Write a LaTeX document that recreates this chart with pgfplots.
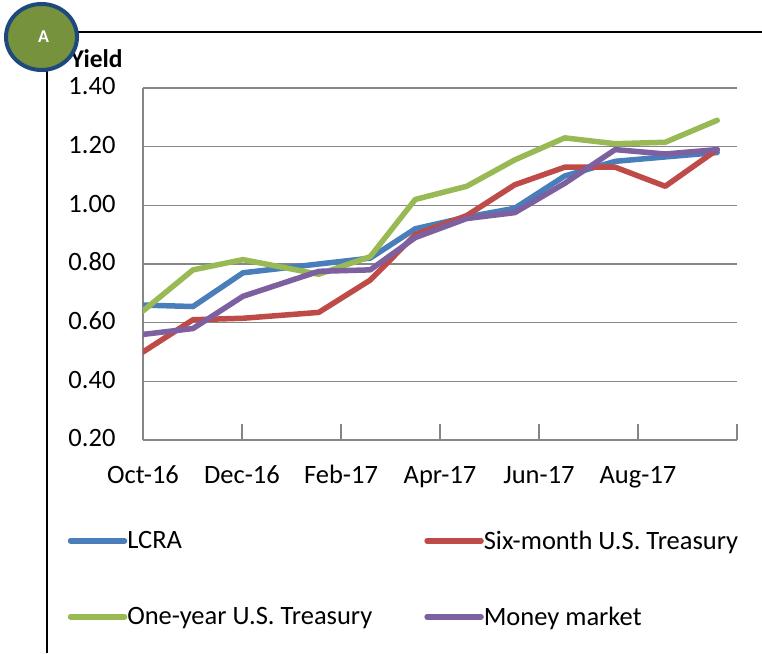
\documentclass[border=0pt]{standalone}
\usepackage{pgfplots}
\pgfplotsset{compat=1.18}
\usepackage{fontspec}
\setmainfont{Carlito}
\definecolor{lcra}{HTML}{4A7EBB}
\definecolor{six}{HTML}{BE4B48}
\definecolor{one}{HTML}{98B954}
\definecolor{mm}{HTML}{7D60A0}
\definecolor{gridg}{HTML}{868686}
\begin{document}
\begin{tikzpicture}[x=1pt,y=1pt]
\path[use as bounding box] (0,0) rectangle (762,653);
\draw[black,line width=1.2pt] (60,621) -- (762,621);
\draw[black,line width=1.2pt] (47,590) -- (47,0);
\node[anchor=base west,inner sep=0pt,font=\fontsize{25.5}{25.5}\selectfont\bfseries] at (70.5,585) {Yield};
\begin{axis}[
  at={(143pt,213pt)},anchor=south west,
  scale only axis,width=594pt,height=352pt,
  xmin=0,xmax=12,ymin=0.2,ymax=1.4,
  axis x line=bottom,axis y line=left,
  axis line style={gridg,line width=1.5pt,-},
  x axis line style={-},y axis line style={-},
  xtick={0,2,4,6,8,10,12},
  xticklabels={Oct-16,Dec-16,Feb-17,Apr-17,Jun-17,Aug-17,},
  typeset ticklabels with strut,
  ytick={0.2,0.4,0.6,0.8,1.0,1.2,1.4},
  yticklabel style={/pgf/number format/fixed,/pgf/number format/fixed zerofill,/pgf/number format/precision=2,/pgf/number format/assume math mode=true,font=\fontsize{26.5}{26.5}\selectfont,xshift=-16pt,yshift=-1.5pt},
  xticklabel style={font=\fontsize{26.5}{26.5}\selectfont,yshift=-13pt},
  ymajorgrids,
  major grid style={gridg,line width=1.5pt},
  tick style={gridg,line width=1.5pt},
  major tick length=16pt,
  x tick style={yshift=8pt},
  y tick style={draw=none},
  legend columns=2,
  legend style={at={(-0.127,-0.252)},anchor=north west,draw=none,fill=none,
    font=\fontsize{26.5}{26.5}\selectfont,inner sep=0pt,row sep=52pt,
    /tikz/every even column/.append style={column sep=50pt}},
  legend cell align=left,
  legend image code/.code={\draw[#1,line cap=round] (0pt,0pt) -- (52pt,0pt); \draw[#1,line cap=round,overlay] (52pt,0pt) -- (54pt,0pt);},
  every axis plot/.append style={line width=5.5pt,line join=round,line cap=round},
]
\addplot[lcra] coordinates {(0,.66)(1.01,.655)(2.02,.77)(3.55,.80)(4.59,.82)(5.5,.92)(6.54,.96)(7.51,.99)(8.52,1.10)(9.54,1.15)(10.55,1.165)(11.6,1.18)};
\addplot[six] coordinates {(0,.50)(1.01,.61)(2.02,.615)(3.55,.635)(4.59,.745)(5.5,.90)(6.54,.965)(7.51,1.07)(8.52,1.13)(9.54,1.13)(10.55,1.065)(11.6,1.19)};
\addplot[one] coordinates {(0,.64)(1.01,.78)(2.02,.815)(3.55,.765)(4.59,.825)(5.5,1.02)(6.54,1.065)(7.51,1.155)(8.52,1.23)(9.54,1.21)(10.55,1.215)(11.6,1.29)};
\addplot[mm] coordinates {(0,.56)(1.01,.58)(2.02,.69)(3.55,.775)(4.59,.78)(5.5,.89)(6.54,.955)(7.51,.975)(8.52,1.075)(9.54,1.19)(10.55,1.175)(11.6,1.19)};
\legend{LCRA,Six-month U.S. Treasury,One-year U.S. Treasury,Money market}
\end{axis}
\draw[fill={rgb,255:red,118;green,146;blue,60},draw={rgb,255:red,31;green,73;blue,125},line width=4pt] (41.5,616) ellipse (35.5pt and 33pt);
\node[white,font=\fontsize{18}{18}\selectfont\bfseries] at (43.5,616) {A};
\end{tikzpicture}
\end{document}
